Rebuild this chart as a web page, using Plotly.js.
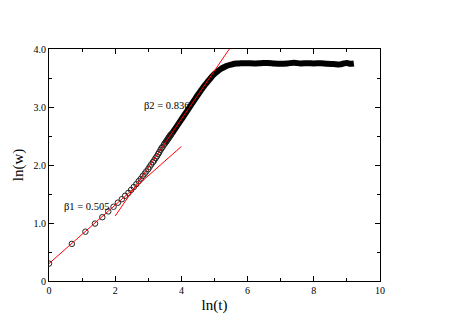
<!DOCTYPE html>
<html>
<head>
<meta charset="utf-8">
<script src="https://cdn.plot.ly/plotly-3.0.1.min.js"></script>
<style>html,body{margin:0;padding:0;background:#fff;}#chart{width:468px;height:331px;}</style>
</head>
<body>
<div id="chart"></div>
<script>
// early, individually visible points (ln t, ln w)
const earlyLnT = [0, 0.69, 1.10, 1.39, 1.61, 1.79, 1.95, 2.08, 2.20, 2.30, 2.40, 2.48, 2.56, 2.64, 2.71, 2.77, 2.83, 2.89, 2.94, 3.00, 3.04, 3.09, 3.14, 3.18, 3.22, 3.26, 3.30, 3.33, 3.37, 3.40, 3.43, 3.47, 3.50, 3.53, 3.56, 3.58, 3.61, 3.64, 3.66, 3.69];
const earlyLnW = [0.30, 0.64, 0.85, 0.99, 1.10, 1.20, 1.28, 1.35, 1.41, 1.47, 1.52, 1.57, 1.62, 1.67, 1.72, 1.76, 1.81, 1.85, 1.89, 1.93, 1.97, 2.01, 2.05, 2.08, 2.12, 2.15, 2.19, 2.22, 2.26, 2.29, 2.31, 2.35, 2.37, 2.40, 2.42, 2.44, 2.47, 2.49, 2.51, 2.53];
// dense part of the data (markers merge into a thick band)
const denseLnT = [3.50, 3.7, 3.9, 4.1, 4.3, 4.5, 4.7, 4.9, 5.0, 5.1, 5.2, 5.3, 5.4, 5.5, 5.6, 5.7, 5.8, 6.0, 6.2, 6.4, 6.6, 6.8, 7.0, 7.2, 7.4, 7.6, 7.8, 8.0, 8.2, 8.4, 8.6, 8.8, 8.9, 9.0, 9.1, 9.21];
const denseLnW = [2.37, 2.53, 2.70, 2.87, 3.04, 3.21, 3.37, 3.51, 3.57, 3.62, 3.66, 3.69, 3.715, 3.73, 3.745, 3.75, 3.755, 3.755, 3.75, 3.755, 3.76, 3.75, 3.745, 3.75, 3.765, 3.75, 3.755, 3.75, 3.755, 3.745, 3.74, 3.735, 3.75, 3.76, 3.745, 3.75];
// fit lines
const fit1X = [0, 4];
const fit1Y = [0.30, 2.32];
const fit2X = [2, 5.46];
const fit2Y = [1.12, 4.01];
const xTickVals = [0, 2, 4, 6, 8, 10];
const xTickText = ["0", "2", "4", "6", "8", "10"];
const yTickVals = [0, 1, 2, 3, 4];
const yTickText = ["0", "1.0", "2.0", "3.0", "4.0"];

const serif = "Liberation Serif";
const traces = [
  {x: denseLnT, y: denseLnW, mode: 'lines', line: {color: '#000', width: 6, shape: 'spline', smoothing: 0.8}, hoverinfo: 'skip'},
  {x: earlyLnT, y: earlyLnW, mode: 'markers', marker: {symbol: 'circle-open', size: 5.5, color: '#222', line: {width: 1, color: '#222'}}},
  {x: fit1X, y: fit1Y, mode: 'lines', line: {color: '#ff0000', width: 1}},
  {x: fit2X, y: fit2Y, mode: 'lines', line: {color: '#ff0000', width: 1}}
];
const axisCommon = {
  showgrid: false, zeroline: false, showline: true, linecolor: '#000', linewidth: 1,
  mirror: 'allticks', ticks: 'inside', ticklen: 5, tickwidth: 1, tickcolor: '#000',
  tickfont: {family: serif, size: 10, color: '#000'}
};
const layout = {
  width: 468, height: 331,
  margin: {l: 49, r: 88, t: 49, b: 50},
  paper_bgcolor: '#fff', plot_bgcolor: '#fff',
  showlegend: false,
  font: {family: serif, color: '#000'},
  xaxis: Object.assign({}, axisCommon, {
    range: [0, 10], tickmode: 'array', tickvals: xTickVals, ticktext: xTickText,
    minor: {ticks: 'inside', dtick: 1, ticklen: 3, tickcolor: '#000', tickwidth: 1},
    title: {text: 'ln(t)', font: {family: serif, size: 15, color: '#000'}, standoff: 4}
  }),
  yaxis: Object.assign({}, axisCommon, {
    range: [0, 4], tickmode: 'array', tickvals: yTickVals, ticktext: yTickText,
    minor: {ticks: 'inside', dtick: 0.5, ticklen: 3, tickcolor: '#000', tickwidth: 1},
    title: {text: 'ln(w)', font: {family: serif, size: 15, color: '#000'}, standoff: 6}
  }),
  annotations: [
    {x: 1.12, y: 1.28, xref: 'x', yref: 'y', text: 'β1 = 0.505', showarrow: false, font: {family: serif, size: 10.5, color: '#000'}},
    {x: 3.55, y: 3.02, xref: 'x', yref: 'y', text: 'β2 = 0.836', showarrow: false, font: {family: serif, size: 10.5, color: '#000'}}
  ]
};
Plotly.newPlot('chart', traces, layout, {displayModeBar: false, staticPlot: true});
</script>
</body>
</html>
